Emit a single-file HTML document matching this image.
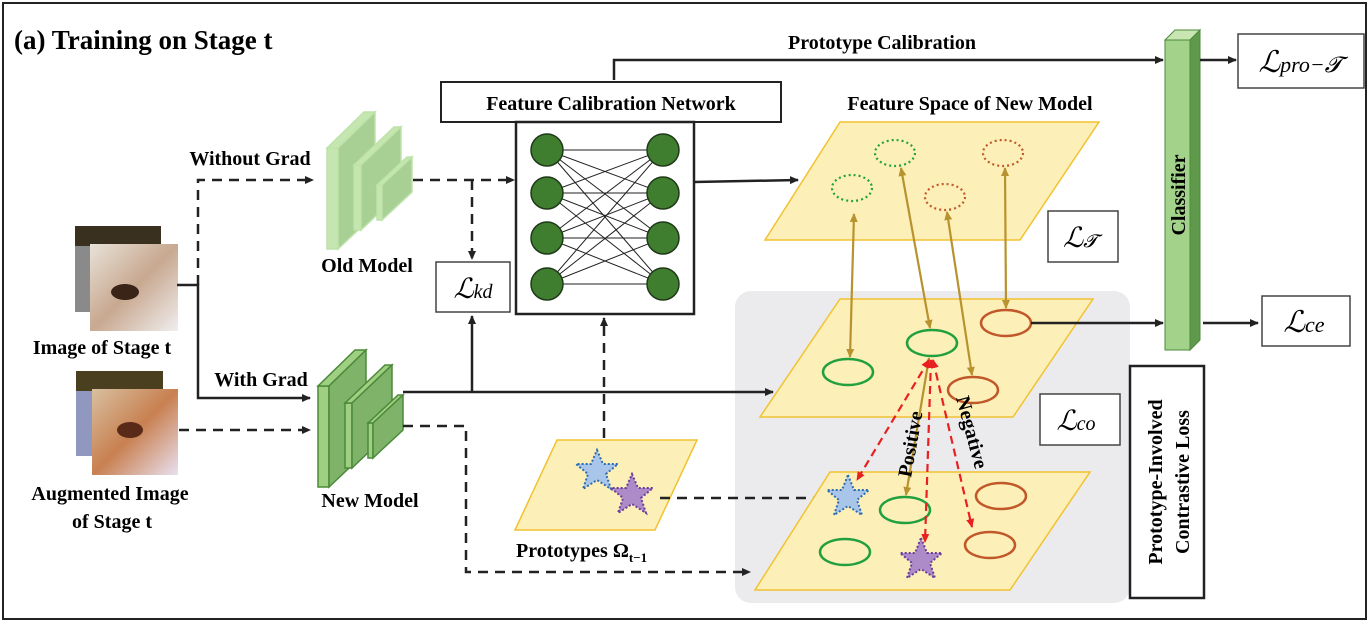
<!DOCTYPE html><html><head><meta charset="utf-8"><style>body{margin:0;background:#fff}svg{display:block}text{font-family:"Liberation Serif",serif;font-weight:bold}text.m{font-weight:normal;font-style:italic}</style></head><body>
<svg width="1370" height="624" viewBox="0 0 1370 624" xmlns="http://www.w3.org/2000/svg">
<defs>
<marker id="a" markerWidth="10" markerHeight="10" refX="8" refY="5" orient="auto" markerUnits="userSpaceOnUse"><path d="M0,1 L9,5 L0,9z" fill="#222"/></marker>
<marker id="r" markerWidth="10" markerHeight="10" refX="8" refY="5" orient="auto-start-reverse" markerUnits="userSpaceOnUse"><path d="M0,1 L9,5 L0,9z" fill="#e82020"/></marker>
<marker id="b" markerWidth="10" markerHeight="10" refX="8" refY="5" orient="auto-start-reverse" markerUnits="userSpaceOnUse"><path d="M0,1 L9,5 L0,9z" fill="#b8922e"/></marker>
<linearGradient id="d1" x1="0" y1="0" x2="1" y2="1"><stop offset="0" stop-color="#e8e2d8"/><stop offset=".5" stop-color="#c8a890"/><stop offset="1" stop-color="#f0eeee"/></linearGradient>
<linearGradient id="d2" x1="0" y1="0" x2="1" y2="1"><stop offset="0" stop-color="#d8c0a0"/><stop offset=".5" stop-color="#c88050"/><stop offset="1" stop-color="#e8e0f0"/></linearGradient>
</defs>
<rect x="3" y="3" width="1363" height="616" fill="#fff" stroke="#222" stroke-width="2"/>
<text x="14" y="49" font-size="27">(a) Training on Stage t</text>
<text x="882" y="49" font-size="20" text-anchor="middle">Prototype Calibration</text>
<polyline points="614,80 614,60 1163,60" fill="none" stroke="#222" stroke-width="2.5" marker-end="url(#a)"/>
<rect x="735" y="291" width="395" height="312" rx="16" fill="#ebebee"/>
<!-- images -->
<rect x="75" y="226" width="86" height="86" fill="#8a8a8a"/><rect x="75" y="226" width="86" height="20" fill="#3a3020"/>
<rect x="90" y="244" width="88" height="87" fill="url(#d1)"/>
<ellipse cx="125" cy="292" rx="14" ry="8" fill="#3a2418"/>
<rect x="76" y="371" width="87" height="85" fill="#9098c0"/><rect x="76" y="371" width="87" height="20" fill="#4a4020"/>
<rect x="92" y="389" width="86" height="86" fill="url(#d2)"/>
<ellipse cx="130" cy="430" rx="13" ry="8" fill="#5a2a18"/>
<text x="102" y="354" font-size="20" text-anchor="middle">Image of Stage t</text>
<text x="110" y="500" font-size="20" text-anchor="middle">Augmented Image</text>
<text x="112" y="528" font-size="20" text-anchor="middle">of Stage t</text>
<text x="250" y="165" font-size="20" text-anchor="middle">Without Grad</text>
<text x="261" y="386" font-size="20" text-anchor="middle">With Grad</text>
<text x="367" y="272" font-size="20" text-anchor="middle">Old Model</text>
<text x="370" y="507" font-size="20" text-anchor="middle">New Model</text>
<polyline points="177,285 198,285 198,398 310,398" fill="none" stroke="#222" stroke-width="2.5" marker-end="url(#a)"/>
<polyline points="198,285 198,180 313,180" fill="none" stroke="#222" stroke-width="2.5" stroke-dasharray="10,7" marker-end="url(#a)"/>
<line x1="179" y1="430" x2="310" y2="430" stroke="#222" stroke-width="2.5" stroke-dasharray="10,7" marker-end="url(#a)"/>
<!-- old model -->
<g transform="translate(9,-238)" fill="#a8cf94" stroke="#bde3a8" stroke-width="1.5">
<polygon points="318,386 329,386 329,487 318,487" fill="#c5e6b0"/><polygon points="318,386 355,350 366,350 329,386" fill="#c5e6b0"/><polygon points="329,386 366,350 366,452 329,487"/>
<polygon points="345,403 352,403 352,468 345,468" fill="#c5e6b0"/><polygon points="345,403 385,365 392,365 352,403" fill="#c5e6b0"/><polygon points="352,403 392,365 392,430 352,468"/>
<polygon points="368,423 373,423 373,458 368,458" fill="#c5e6b0"/><polygon points="368,423 398,395 403,395 373,423" fill="#c5e6b0"/><polygon points="373,423 403,395 403,430 373,458"/>
</g>
<!-- new model -->
<g fill="#7fb36a" stroke="#4c8a3a" stroke-width="1.5">
<polygon points="318,386 329,386 329,487 318,487" fill="#9fd081"/><polygon points="318,386 355,350 366,350 329,386" fill="#9fd081"/><polygon points="329,386 366,350 366,452 329,487"/>
<polygon points="345,403 352,403 352,468 345,468" fill="#9fd081"/><polygon points="345,403 385,365 392,365 352,403" fill="#9fd081"/><polygon points="352,403 392,365 392,430 352,468"/>
<polygon points="368,423 373,423 373,458 368,458" fill="#9fd081"/><polygon points="368,423 398,395 403,395 373,423" fill="#9fd081"/><polygon points="373,423 403,395 403,430 373,458"/>
</g>
<line x1="413" y1="180" x2="514" y2="180" stroke="#222" stroke-width="2.5" stroke-dasharray="10,7" marker-end="url(#a)"/>
<line x1="472" y1="180" x2="472" y2="259" stroke="#222" stroke-width="2.5" stroke-dasharray="10,7" marker-end="url(#a)"/>
<rect x="436" y="262" width="74" height="50" fill="#fff" stroke="#444" stroke-width="1.5"/>
<text class="m" x="473" y="298" font-size="28" text-anchor="middle">ℒ<tspan font-size="20">kd</tspan></text>
<line x1="403" y1="392" x2="773" y2="392" stroke="#222" stroke-width="2.5" marker-end="url(#a)"/>
<line x1="472" y1="392" x2="472" y2="316" stroke="#222" stroke-width="2.5" marker-end="url(#a)"/>
<polyline points="403,426 466,426 466,572 750,572" fill="none" stroke="#222" stroke-width="2.5" stroke-dasharray="10,7" marker-end="url(#a)"/>
<rect x="441" y="82" width="340" height="40" fill="#fff" stroke="#222" stroke-width="2"/>
<text x="611" y="110" font-size="20" text-anchor="middle">Feature Calibration Network</text>
<rect x="516" y="122" width="178" height="192" fill="#fff" stroke="#222" stroke-width="2.5"/>
<g stroke="#222" stroke-width="1">
<line x1="547" y1="150" x2="663" y2="150"/><line x1="547" y1="150" x2="663" y2="193"/><line x1="547" y1="150" x2="663" y2="238"/><line x1="547" y1="150" x2="663" y2="284"/>
<line x1="547" y1="193" x2="663" y2="150"/><line x1="547" y1="193" x2="663" y2="193"/><line x1="547" y1="193" x2="663" y2="238"/><line x1="547" y1="193" x2="663" y2="284"/>
<line x1="547" y1="238" x2="663" y2="150"/><line x1="547" y1="238" x2="663" y2="193"/><line x1="547" y1="238" x2="663" y2="238"/><line x1="547" y1="238" x2="663" y2="284"/>
<line x1="547" y1="284" x2="663" y2="150"/><line x1="547" y1="284" x2="663" y2="193"/><line x1="547" y1="284" x2="663" y2="238"/><line x1="547" y1="284" x2="663" y2="284"/>
</g>
<g fill="#3f7d2f" stroke="#1f3a18" stroke-width="1.5">
<circle cx="547" cy="150" r="16"/><circle cx="547" cy="193" r="16"/><circle cx="547" cy="238" r="16"/><circle cx="547" cy="284" r="16"/>
<circle cx="663" cy="150" r="16"/><circle cx="663" cy="193" r="16"/><circle cx="663" cy="238" r="16"/><circle cx="663" cy="284" r="16"/>
</g>
<line x1="694" y1="182" x2="798" y2="180" stroke="#222" stroke-width="2.5" marker-end="url(#a)"/>
<line x1="604" y1="438" x2="604" y2="318" stroke="#222" stroke-width="2.5" stroke-dasharray="10,7" marker-end="url(#a)"/>
<polygon points="557,440 697,440 655,530 515,530" fill="#fdefb8" stroke="#f2c230" stroke-width="1.5"/>
<polygon points="597,450 603,464 618,464 606,474 611,489 597,480 583,489 588,474 576,464 591,464" fill="#a9c6ea" stroke="#2e6cb0" stroke-width="2" stroke-dasharray="2,2"/>
<polygon points="632,474 638,488 653,488 641,498 646,513 632,504 618,513 623,498 611,488 626,488" fill="#ad8ac8" stroke="#6a3d9a" stroke-width="2" stroke-dasharray="2,2"/>
<text x="516" y="557" font-size="20">Prototypes Ω<tspan font-size="13" dy="5">t−1</tspan></text>
<line x1="660" y1="498" x2="826" y2="498" stroke="#222" stroke-width="2.5" stroke-dasharray="10,7" marker-end="url(#a)"/>
<text x="970" y="110" font-size="20" text-anchor="middle">Feature Space of New Model</text>
<polygon points="840,122 1099,122 1020,240 765,240" fill="#fdefb8" stroke="#f2c230" stroke-width="1.5"/>
<g fill="none" stroke-width="2.2" stroke-dasharray="2,3">
<ellipse cx="895" cy="153" rx="20" ry="13" stroke="#22a040"/><ellipse cx="852" cy="188" rx="20" ry="13" stroke="#22a040"/>
<ellipse cx="1003" cy="153" rx="20" ry="13" stroke="#c0582a"/><ellipse cx="945" cy="197" rx="20" ry="13" stroke="#c0582a"/>
</g>
<rect x="1048" y="211" width="70" height="51" fill="#fff" stroke="#444" stroke-width="1.5"/>
<text class="m" x="1080" y="247" font-size="28" text-anchor="middle">ℒ<tspan font-size="18">𝓣</tspan></text>
<polygon points="840,299 1093,299 1013,417 760,417" fill="#fdefb8" stroke="#f2c230" stroke-width="1.5"/>
<g fill="none" stroke-width="2.5">
<ellipse cx="848" cy="372" rx="25" ry="13" stroke="#22a040"/><ellipse cx="932" cy="343" rx="25" ry="13" stroke="#22a040"/>
<ellipse cx="1006" cy="323" rx="25" ry="13" stroke="#c0582a"/><ellipse cx="973" cy="390" rx="25" ry="13" stroke="#c0582a"/>
</g>
<polygon points="830,472 1090,472 1010,590 755,590" fill="#fdefb8" stroke="#f2c230" stroke-width="1.5"/>
<g fill="none" stroke-width="2.5">
<ellipse cx="905" cy="510" rx="25" ry="13" stroke="#22a040"/><ellipse cx="845" cy="552" rx="25" ry="13" stroke="#22a040"/>
<ellipse cx="1001" cy="496" rx="25" ry="13" stroke="#c0582a"/><ellipse cx="990" cy="545" rx="25" ry="13" stroke="#c0582a"/>
</g>
<polygon points="848,475 854,490 869,490 857,500 862,515 848,506 834,515 839,500 827,490 842,490" fill="#a9c6ea" stroke="#2e6cb0" stroke-width="2" stroke-dasharray="2,2"/>
<polygon points="921,538 927,553 942,553 930,563 935,578 921,569 907,578 912,563 900,553 915,553" fill="#ad8ac8" stroke="#6a3d9a" stroke-width="2" stroke-dasharray="2,2"/>
<g stroke="#b8922e" stroke-width="2.2" marker-start="url(#b)" marker-end="url(#b)">
<line x1="854" y1="214" x2="850" y2="357"/><line x1="901" y1="168" x2="930" y2="328"/>
<line x1="947" y1="212" x2="972" y2="375"/><line x1="1005" y1="168" x2="1006" y2="308"/>
<line x1="929" y1="358" x2="906" y2="495"/>
</g>
<g stroke="#e82020" stroke-width="2.2" stroke-dasharray="8,5" fill="none" marker-start="url(#r)" marker-end="url(#r)">
<line x1="929" y1="360" x2="857" y2="480"/><line x1="931" y1="360" x2="925" y2="542"/><line x1="933" y1="360" x2="972" y2="527"/>
</g>
<text transform="translate(911,478) rotate(-80)" font-size="20">Positive</text>
<text transform="translate(956,398) rotate(75)" font-size="20">Negative</text>
<line x1="1031" y1="323" x2="1163" y2="323" stroke="#222" stroke-width="2.5" marker-end="url(#a)"/>
<rect x="1040" y="394" width="80" height="51" fill="#fff" stroke="#444" stroke-width="1.5"/>
<text class="m" x="1076" y="430" font-size="28" text-anchor="middle">ℒ<tspan font-size="20">co</tspan></text>
<rect x="1130" y="366" width="74" height="232" fill="#fff" stroke="#222" stroke-width="2.5"/>
<text transform="translate(1162,482) rotate(-90)" font-size="20" text-anchor="middle">Prototype-Involved</text>
<text transform="translate(1189,482) rotate(-90)" font-size="20" text-anchor="middle">Contrastive Loss</text>
<polygon points="1165,40 1175,30 1200,30 1190,40" fill="#c9e6b2" stroke="#4c8a3a"/>
<polygon points="1190,40 1200,30 1200,340 1190,350" fill="#5f9a4c" stroke="#4c8a3a"/>
<rect x="1165" y="40" width="25" height="310" fill="#a3d38a" stroke="#4c8a3a"/>
<text transform="translate(1185,195) rotate(-90)" font-size="20" text-anchor="middle">Classifier</text>
<line x1="1200" y1="60" x2="1236" y2="60" stroke="#222" stroke-width="2.5" marker-end="url(#a)"/>
<rect x="1238" y="34" width="126" height="54" fill="#fff" stroke="#444" stroke-width="1.5"/>
<text class="m" x="1300" y="72" font-size="30" text-anchor="middle">ℒ<tspan font-size="22">pro−𝓣</tspan></text>
<line x1="1203" y1="323" x2="1258" y2="323" stroke="#222" stroke-width="2.5" marker-end="url(#a)"/>
<rect x="1262" y="296" width="88" height="50" fill="#fff" stroke="#444" stroke-width="1.5"/>
<text class="m" x="1304" y="332" font-size="30" text-anchor="middle">ℒ<tspan font-size="22">ce</tspan></text>
</svg>
</body></html>
